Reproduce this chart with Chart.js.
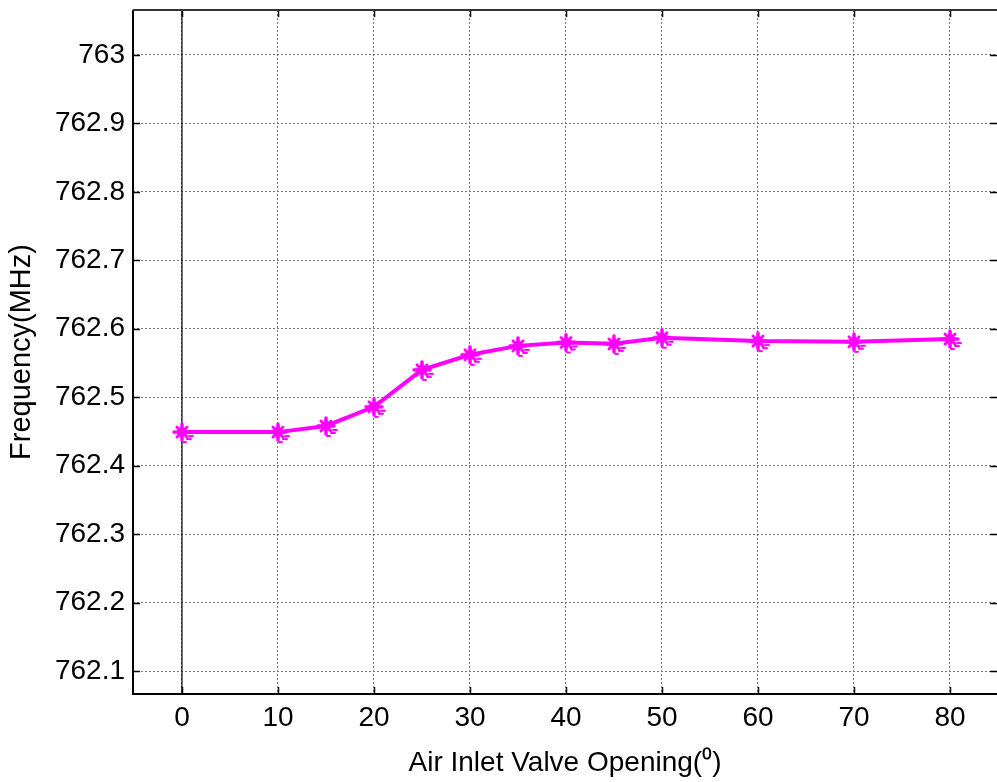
<!DOCTYPE html>
<html><head><meta charset="utf-8">
<script src="https://cdn.jsdelivr.net/npm/chart.js@4"></script>
<style>html,body{margin:0;padding:0;background:#fff;}canvas{display:block;}</style>
</head><body>
<canvas id="c" width="997" height="782"></canvas>
<script>
const openings = [0, 10, 15, 20, 25, 30, 35, 40, 45, 50, 60, 70, 80];
const frequencyMHz = [762.449, 762.449, 762.458, 762.486, 762.540, 762.562, 762.575, 762.580, 762.578, 762.587, 762.582, 762.581, 762.585];
const xTickValues = [0, 10, 20, 30, 40, 50, 60, 70, 80];
const yTickValues = [762.1, 762.2, 762.3, 762.4, 762.5, 762.6, 762.7, 762.8, 762.9, 763.0];
const xTitle = 'Air Inlet Valve Opening(\u2070)';
const yTitle = 'Frequency(MHz)';

const MAGENTA = '#ff00ff';
const FONT = 'Liberation Sans, Arial, sans-serif';

function makeMarker() {
  const c = document.createElement('canvas');
  c.width = 32; c.height = 32;
  const g = c.getContext('2d');
  const cx = 16, cy = 16;
  g.strokeStyle = MAGENTA; g.fillStyle = MAGENTA; g.lineCap = 'round';
  g.lineWidth = 3.5;
  g.beginPath();
  g.moveTo(cx - 8, cy); g.lineTo(cx + 8, cy);
  g.moveTo(cx, cy - 8); g.lineTo(cx, cy + 8);
  g.stroke();
  g.lineWidth = 3;
  g.beginPath();
  g.moveTo(cx - 5, cy - 5); g.lineTo(cx + 5, cy + 5);
  g.moveTo(cx + 5, cy - 5); g.lineTo(cx - 5, cy + 5);
  g.stroke();
  g.beginPath(); g.arc(cx, cy, 5, 0, Math.PI * 2); g.fill();
  g.lineWidth = 2;
  g.beginPath();
  g.moveTo(cx + 7, cy + 4); g.lineTo(cx + 11, cy + 4);
  g.moveTo(cx + 5, cy + 7); g.lineTo(cx + 9, cy + 7);
  g.moveTo(cx + 1, cy + 10); g.lineTo(cx + 4, cy + 10);
  g.stroke();
  return c;
}

const framePlugin = {
  id: 'frame',
  beforeDatasetsDraw(chart) {
    const {ctx, chartArea: a, scales: {x, y}} = chart;
    ctx.save();
    const x0 = x.getPixelForValue(0);
    ctx.strokeStyle = '#000'; ctx.lineWidth = 1.2;
    ctx.beginPath(); ctx.moveTo(x0, a.top); ctx.lineTo(x0, a.bottom); ctx.stroke();
    ctx.lineWidth = 1.5; ctx.strokeStyle = '#000';
    ctx.beginPath();
    xTickValues.forEach(v => {
      const px = Math.round(x.getPixelForValue(v)) + 0.5;
      ctx.moveTo(px, a.bottom); ctx.lineTo(px, a.bottom - 7);
      ctx.moveTo(px, a.top); ctx.lineTo(px, a.top + 7);
    });
    yTickValues.forEach(v => {
      const py = Math.round(y.getPixelForValue(v)) + 0.5;
      ctx.moveTo(a.left, py); ctx.lineTo(a.left + 7, py);
      ctx.moveTo(a.right, py); ctx.lineTo(a.right - 7, py);
    });
    ctx.stroke();
    ctx.lineWidth = 2;
    ctx.strokeStyle = '#000';
    ctx.beginPath();
    ctx.moveTo(a.left, a.top); ctx.lineTo(a.left, a.bottom); ctx.lineTo(a.right, a.bottom);
    ctx.stroke();
    ctx.strokeStyle = '#333';
    ctx.beginPath();
    ctx.moveTo(a.left, a.top); ctx.lineTo(a.right, a.top);
    ctx.stroke();
    ctx.restore();
  }
};

new Chart(document.getElementById('c'), {
  type: 'line',
  data: {
    datasets: [{
      data: openings.map((o, i) => ({x: o, y: frequencyMHz[i]})),
      borderColor: MAGENTA,
      backgroundColor: MAGENTA,
      borderWidth: 4,
      tension: 0,
      pointStyle: makeMarker(),
      pointRadius: 8,
      pointHoverRadius: 8
    }]
  },
  options: {
    responsive: false,
    animation: false,
    events: [],
    layout: {autoPadding: false, padding: {top: 10, right: 0, bottom: 0, left: 0}},
    plugins: {legend: {display: false}, tooltip: {enabled: false}},
    scales: {
      x: {
        type: 'linear',
        min: -5.1, max: 84.9,
        afterBuildTicks: s => { s.ticks = xTickValues.map(v => ({value: v})); },
        afterFit: s => { s.height = 88; s.paddingLeft = 0; s.paddingRight = 0; },
        grid: {color: '#777', lineWidth: 1, drawTicks: false},
        border: {display: false, dash: [2, 2]},
        ticks: {color: '#000', font: {family: FONT, size: 28}, padding: 7, maxRotation: 0,
                callback: v => String(v)},
        title: {display: true, text: xTitle, color: '#000', font: {family: FONT, size: 28}, padding: {top: 0, bottom: 2}}
      },
      y: {
        type: 'linear',
        min: 762.0664, max: 763.0657,
        afterBuildTicks: s => { s.ticks = yTickValues.map(v => ({value: v})); },
        afterFit: s => { s.width = 133; s.paddingTop = 0; s.paddingBottom = 0; },
        grid: {color: '#777', lineWidth: 1, drawTicks: false},
        border: {display: false, dash: [2, 2]},
        ticks: {color: '#000', font: {family: FONT, size: 28}, padding: 8,
                callback: v => String(Number(v.toFixed(1)))},
        title: {display: true, text: yTitle, color: '#000', font: {family: FONT, size: 29}, padding: {top: 5, bottom: 0}}
      }
    }
  },
  plugins: [framePlugin]
});
</script>
</body></html>
